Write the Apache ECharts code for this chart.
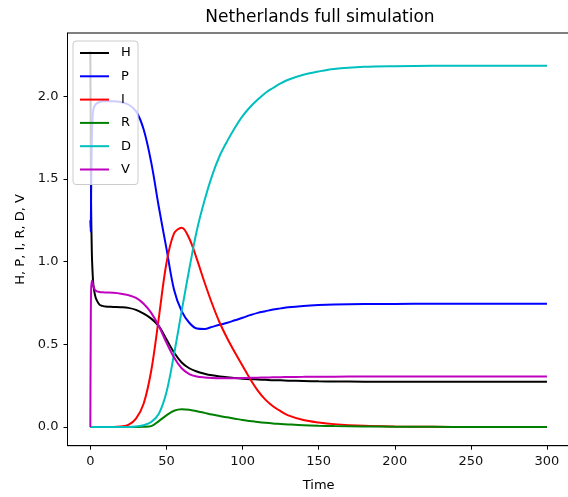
<!DOCTYPE html>
<html>
<head>
<meta charset="utf-8">
<script src="https://cdn.jsdelivr.net/npm/echarts@6/dist/echarts.min.js"></script>
<style>
html, body { margin: 0; padding: 0; overflow: hidden; background: #fff; width: 568px; height: 497px; }
#chart { width: 640px; height: 497px; }
</style>
</head>
<body>
<div id="chart"></div>
<script>
// Time samples
const time = [0, 0.25, 0.5, 1, 1.5, 2, 3, 4, 6, 8, 10, 15, 20, 25, 30, 35, 40, 45, 50, 55, 60, 65, 70, 75, 80, 85, 90, 95, 100, 105, 110, 115, 120, 125, 130, 140, 150, 160, 180, 200, 225, 250, 275, 300];

const H = [2.27, 1.80, 1.35, 1.05, 0.93, 0.86, 0.80, 0.77, 0.74, 0.732, 0.728, 0.726, 0.724, 0.72, 0.708, 0.685, 0.655, 0.61, 0.53, 0.45, 0.39, 0.355, 0.335, 0.322, 0.312, 0.305, 0.300, 0.296, 0.292, 0.289, 0.287, 0.285, 0.283, 0.282, 0.280, 0.278, 0.276, 0.275, 0.274, 0.273, 0.273, 0.273, 0.273, 0.273];

const P = [1.25, 1.18, 1.40, 1.75, 1.88, 1.92, 1.945, 1.955, 1.965, 1.97, 1.97, 1.97, 1.965, 1.95, 1.91, 1.80, 1.60, 1.33, 1.08, 0.83, 0.70, 0.63, 0.595, 0.592, 0.605, 0.618, 0.63, 0.645, 0.66, 0.676, 0.69, 0.70, 0.71, 0.717, 0.724, 0.732, 0.737, 0.74, 0.743, 0.744, 0.745, 0.745, 0.745, 0.745];

const I = [0, 0, 0, 0, 0, 0, 0, 0, 0, 0, 0, 0, 0.003, 0.012, 0.05, 0.14, 0.34, 0.66, 0.99, 1.17, 1.205, 1.14, 1.015, 0.875, 0.745, 0.63, 0.535, 0.45, 0.37, 0.29, 0.22, 0.165, 0.125, 0.095, 0.07, 0.042, 0.027, 0.017, 0.007, 0.003, 0.001, 0, 0, 0];

const R = [0, 0, 0, 0, 0, 0, 0, 0, 0, 0, 0, 0, 0, 0, 0, 0.001, 0.005, 0.035, 0.07, 0.098, 0.107, 0.104, 0.095, 0.085, 0.075, 0.066, 0.058, 0.05, 0.042, 0.036, 0.03, 0.025, 0.021, 0.018, 0.015, 0.01, 0.007, 0.005, 0.003, 0.001, 0.0005, 0, 0, 0];

const D = [0, 0, 0, 0, 0, 0, 0, 0, 0, 0, 0, 0, 0, 0, 0.003, 0.01, 0.03, 0.08, 0.21, 0.44, 0.70, 0.955, 1.19, 1.37, 1.52, 1.64, 1.73, 1.81, 1.88, 1.935, 1.98, 2.02, 2.05, 2.078, 2.10, 2.13, 2.15, 2.165, 2.178, 2.182, 2.184, 2.184, 2.184, 2.184];

const V = [0, 0.55, 0.82, 0.885, 0.87, 0.85, 0.83, 0.822, 0.816, 0.814, 0.813, 0.811, 0.806, 0.797, 0.78, 0.745, 0.69, 0.61, 0.51, 0.42, 0.355, 0.32, 0.305, 0.299, 0.296, 0.295, 0.295, 0.295, 0.296, 0.297, 0.298, 0.299, 0.300, 0.301, 0.302, 0.303, 0.304, 0.304, 0.305, 0.305, 0.305, 0.305, 0.305, 0.305];

const seriesNames = ['H', 'P', 'I', 'R', 'D', 'V'];
const seriesValues = [H, P, I, R, D, V];
const seriesColors = ['#000000', '#0000ff', '#ff0000', '#008000', '#00bfbf', '#bf00bf'];

const xTicks = [0, 50, 100, 150, 200, 250, 300];
const yTicks = [0.0, 0.5, 1.0, 1.5, 2.0];

const FONT = 'DejaVu Sans';

const chart = echarts.init(document.getElementById('chart'), null, { renderer: 'canvas' });

const series = seriesNames.map((name, k) => ({
  name: name,
  type: 'line',
  data: time.map((t, i) => [t, seriesValues[k][i]]),
  showSymbol: false,
  smooth: 0.35,
  lineStyle: { color: seriesColors[k], width: 2 },
  itemStyle: { color: seriesColors[k] },
  emphasis: { disabled: true },
  animation: false
}));

chart.setOption({
  animation: false,
  backgroundColor: '#ffffff',
  title: {
    text: 'Netherlands full simulation',
    left: 'center',
    top: 4,
    textStyle: { fontFamily: FONT, fontSize: 17, fontWeight: 'normal', color: '#000' }
  },
  grid: {
    left: 67.5, top: 33, width: 502.3, height: 412.7,
    show: true, borderColor: '#000', borderWidth: 1, backgroundColor: 'transparent'
  },
  legend: {
    data: seriesNames,
    orient: 'vertical',
    left: 73, top: 41,
    padding: [5, 7, 8, 7],
    itemGap: 9.3,
    itemWidth: 29, itemHeight: 2,
    icon: 'rect',
    backgroundColor: 'rgba(255,255,255,0.8)',
    borderColor: '#cccccc', borderWidth: 1, borderRadius: 3,
    textStyle: { fontFamily: FONT, fontSize: 13, color: '#000', lineHeight: 14, padding: [0, 0, 0, 7] },
    selectedMode: false
  },
  xAxis: {
    type: 'value',
    min: -15, max: 315,
    name: 'Time',
    nameLocation: 'middle',
    nameGap: 33,
    nameTextStyle: { fontFamily: FONT, fontSize: 13, color: '#000' },
    splitLine: { show: false },
    axisLine: { show: true, onZero: false, lineStyle: { color: '#000' } },
    axisTick: { show: true, length: 4, lineStyle: { color: '#000' }, customValues: xTicks },
    axisLabel: { fontFamily: FONT, fontSize: 13, color: '#111', margin: 9, customValues: xTicks, formatter: v => String(v) }
  },
  yAxis: {
    type: 'value',
    min: -0.1135, max: 2.3825,
    name: 'H, P, I, R, D, V',
    nameLocation: 'middle',
    nameRotate: 90,
    nameGap: 40,
    nameTextStyle: { fontFamily: FONT, fontSize: 13, color: '#000' },
    splitLine: { show: false },
    axisLine: { show: true, onZero: false, lineStyle: { color: '#000' } },
    axisTick: { show: true, length: 4, lineStyle: { color: '#000' }, customValues: yTicks },
    axisLabel: { fontFamily: FONT, fontSize: 13, color: '#111', margin: 9, customValues: yTicks, formatter: v => v.toFixed(1) }
  },
  series: series
});
</script>
</body>
</html>
